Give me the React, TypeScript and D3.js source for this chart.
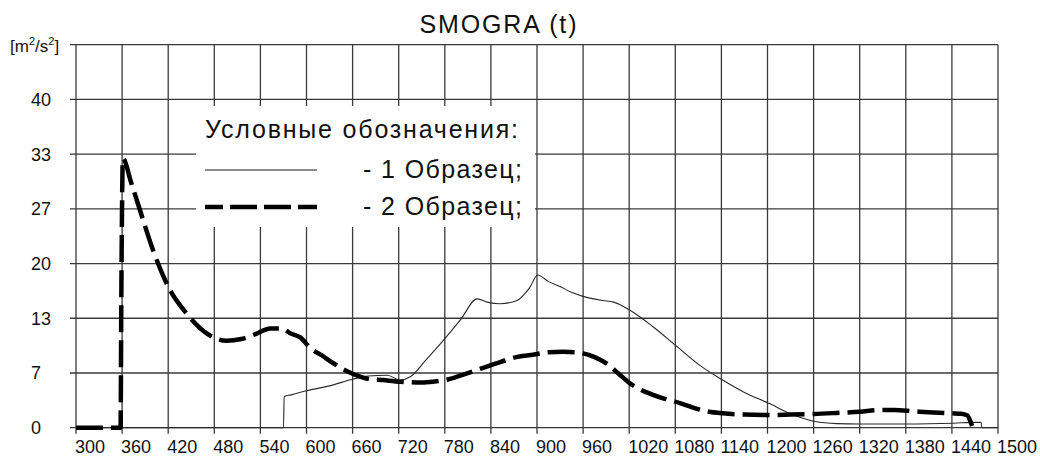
import React from 'react';
import * as d3 from 'd3';

const chartTitle = 'SMOGRA (t)';
const yUnitLabel = ['[m', '2', '/s', '2', ']'];
const xTicks = [300, 360, 420, 480, 540, 600, 660, 720, 780, 840, 900, 960, 1020, 1080, 1140, 1200, 1260, 1320, 1380, 1440, 1500];
const yTicks = [0, 6.667, 13.333, 20, 26.667, 33.333, 40, 46.667];
const yTickLabels = ['0', '7', '13', '20', '27', '33', '40', ''];

const legendTitle = 'Условные обозначения:';
const seriesNames = ['- 1 Образец;', '- 2 Образец;'];

// Series 1 (thin solid line)
const s1X = [300, 570, 571, 580, 600, 630, 660, 680, 705, 722, 735, 755, 775, 800, 822, 835, 852, 874, 890, 901, 915, 930, 945, 960, 985, 1000, 1021, 1051, 1082, 1112, 1140, 1170, 1201, 1234, 1262, 1290, 1320, 1380, 1442, 1470, 1478, 1479, 1500];
const s1Y = [0, 0, 3.8, 4.0, 4.5, 5.1, 5.9, 6.3, 6.4, 5.8, 6.2, 8.2, 10.3, 13.1, 15.7, 15.3, 15.1, 15.5, 17.0, 18.6, 17.8, 17.2, 16.5, 16.0, 15.5, 15.3, 14.3, 12.3, 9.9, 7.6, 5.9, 4.3, 3.0, 1.55, 0.75, 0.5, 0.45, 0.45, 0.55, 0.65, 0.65, 0, 0];

// Series 2 (thick dashed line)
const s2X = [300, 358, 359, 361, 372, 386, 400, 420, 444, 470, 496, 515, 531, 553, 568, 579, 592, 605, 620, 635, 657, 678, 700, 722, 750, 765, 785, 808, 830, 852, 873, 895, 915, 934, 950, 960, 975, 991, 1006, 1021, 1051, 1086, 1121, 1142, 1170, 1203, 1230, 1260, 1290, 1320, 1345, 1365, 1390, 1416, 1440, 1452, 1460, 1464, 1467];
const s2Y = [0, 0, 16, 32.8, 29.8, 25.7, 21.7, 17.2, 13.9, 11.5, 10.6, 10.8, 11.3, 12.1, 12.1, 11.5, 11.0, 9.7, 8.8, 7.85, 6.7, 6.0, 5.8, 5.6, 5.5, 5.6, 5.9, 6.6, 7.3, 8.0, 8.6, 8.9, 9.2, 9.26, 9.2, 9.06, 8.6, 7.8, 6.6, 5.4, 4.0, 3.0, 2.0, 1.75, 1.6, 1.55, 1.6, 1.67, 1.8, 1.95, 2.15, 2.15, 2.0, 1.85, 1.75, 1.7, 1.5, 0.8, 0];

const W = 1040;
const H = 459;
const LEFT = 76;
const RIGHT = 998;
const TOP = 44.7;
const BOTTOM = 427.7;
const FONT = "'Liberation Sans', Arial, sans-serif";
const GRID = '#3a3a3a';

export default function App() {
  const x = d3.scaleLinear().domain([300, 1500]).range([LEFT, RIGHT]);
  const y = d3.scaleLinear().domain([0, 46.667]).range([BOTTOM, TOP]);

  const line = d3
    .line<[number, number]>()
    .x((d) => x(d[0]))
    .y((d) => y(d[1]))
    .curve(d3.curveMonotoneX);

  const p1 = line(s1X.map((v, i) => [v, s1Y[i]] as [number, number])) || '';
  const p2 = line(s2X.map((v, i) => [v, s2Y[i]] as [number, number])) || '';

  return (
    <svg
      width={W}
      height={H}
      style={{ position: 'absolute', left: 0, top: 0, background: '#fff' }}
      fontFamily={FONT}
    >
      <rect x={0} y={0} width={W} height={H} fill="#fff" />
      <text x={498} y={33} fontSize={25} textAnchor="middle" fill="#111" textLength={157} lengthAdjust="spacing">
        {chartTitle}
      </text>

      {/* horizontal grid */}
      {yTicks.map((t, i) => (
        <line key={'h' + i} x1={LEFT - 6} x2={RIGHT} y1={y(t)} y2={y(t)} stroke={GRID} strokeWidth={1.3} />
      ))}
      {/* vertical grid */}
      {xTicks.map((t, i) => (
        <line key={'v' + i} x1={x(t)} x2={x(t)} y1={TOP} y2={BOTTOM + 6} stroke={GRID} strokeWidth={1.3} />
      ))}

      {/* y tick labels */}
      {yTicks.map((t, i) =>
        yTickLabels[i] ? (
          <text key={'yl' + i} x={31} y={y(t) + 6.5} fontSize={18} fill="#111">
            {yTickLabels[i]}
          </text>
        ) : null
      )}
      <text x={10} y={52} fontSize={17} fill="#111">
        {yUnitLabel[0]}
        <tspan fontSize={11} dy={-7}>{yUnitLabel[1]}</tspan>
        <tspan dy={7}>{yUnitLabel[2]}</tspan>
        <tspan fontSize={11} dy={-7}>{yUnitLabel[3]}</tspan>
        <tspan dy={7}>{yUnitLabel[4]}</tspan>
      </text>

      {/* x tick labels */}
      {xTicks.map((t, i) => (
        <text key={'xl' + i} x={x(t) - 1} y={453} fontSize={18} fill="#111">
          {String(t)}
        </text>
      ))}

      {/* legend box */}
      <rect x={196} y={106} width={339} height={121} fill="#fff" />
      <text x={205} y={138} fontSize={25} fill="#111" textLength={313} lengthAdjust="spacing">
        {legendTitle}
      </text>
      <line x1={205} x2={317} y1={170} y2={170} stroke="#666" strokeWidth={1.6} />
      <text x={363} y={178} fontSize={25} fill="#111" textLength={159} lengthAdjust="spacing">
        {seriesNames[0]}
      </text>
      <line x1={205} x2={317} y1={207} y2={207} stroke="#000" strokeWidth={4.5} strokeDasharray="27 7" strokeDashoffset={9} />
      <text x={363} y={215} fontSize={25} fill="#111" textLength={159} lengthAdjust="spacing">
        {seriesNames[1]}
      </text>

      {/* data */}
      <path d={p1} fill="none" stroke="#2a2a2a" strokeWidth={1.1} strokeLinejoin="round" />
      <path d={p2} fill="none" stroke="#000" strokeWidth={4.5} strokeDasharray="27 8" strokeLinejoin="round" />
    </svg>
  );
}
